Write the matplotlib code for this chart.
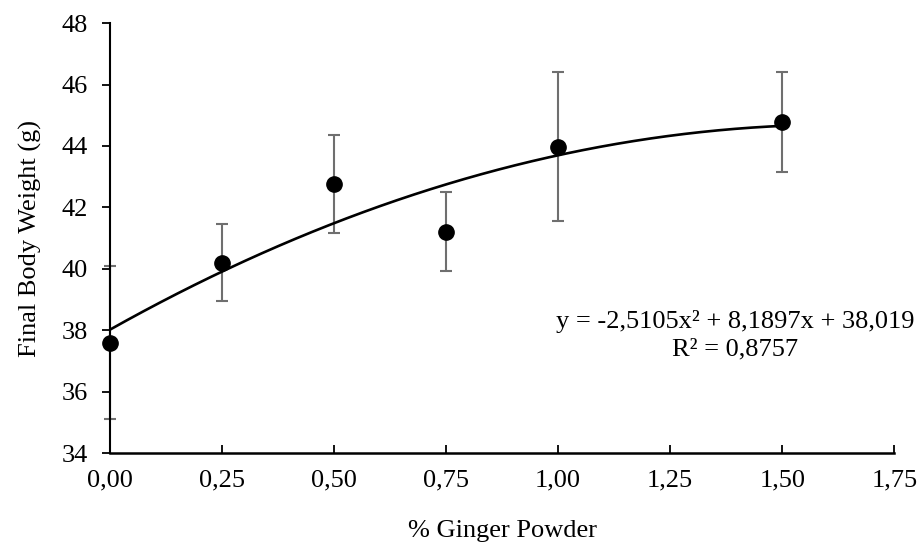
import numpy as np
import matplotlib.pyplot as plt

plt.rcParams['font.family'] = ['Liberation Serif', 'DejaVu Serif']

# dati
ginger = [0.0, 0.25, 0.5, 0.75, 1.0, 1.5]
weight = [37.6, 40.2, 42.76, 41.21, 43.98, 44.77]
err = [2.5, 1.25, 1.6, 1.28, 2.43, 1.63]

# coefficienti della linea di tendenza (dal testo del grafico)
coef = [-2.5105, 8.1897, 38.019]
r2 = 0.8757

xticks = [0, 0.25, 0.5, 0.75, 1.0, 1.25, 1.5, 1.75]
yticks = [34, 36, 38, 40, 42, 44, 46, 48]

fs = 19

fig = plt.figure(figsize=(9.23, 5.5), dpi=100)
ax = fig.add_axes([0.119, 0.176, 0.850, 0.782])

xf = np.linspace(min(ginger), max(ginger), 200)
ax.plot(xf, np.polyval(coef, xf), color='black', lw=1.9, zorder=2)

ax.errorbar(ginger, weight, yerr=err, fmt='none', ecolor='#6f6f6f',
            elinewidth=1.5, capsize=4, capthick=1.5, zorder=1, clip_on=False)
ax.plot(ginger, weight, 'o', color='black', ms=11, zorder=3, clip_on=False)

ax.set_xlim(0, 1.75)
ax.set_ylim(34, 48)
ax.set_xticks(xticks)
ax.set_yticks(yticks)
ax.set_xticklabels([('%.2f' % v).replace('.', ',') for v in xticks])

ax.spines['top'].set_visible(False)
ax.spines['right'].set_visible(False)
ax.spines['left'].set_linewidth(1.5)
ax.spines['bottom'].set_linewidth(1.8)
ax.tick_params(axis='x', direction='in', length=6, width=1.3, labelsize=fs, pad=12)
ax.tick_params(axis='y', direction='out', length=6, width=1.3, labelsize=fs, pad=10)

ax.set_xlabel('% Ginger Powder', fontsize=fs, labelpad=20)
ax.set_ylabel('Final Body Weight (g)', fontsize=fs, labelpad=14)

eq = 'y = ' + ('%.4fx² + %.4fx + %.3f' % (coef[0], coef[1], coef[2])).replace('.', ',')
txt = eq + '\n' + ('R² = %.4f' % r2).replace('.', ',')
ax.text(1.395, 38.65, txt, fontsize=fs, ha='center', va='top', multialignment='center',
        linespacing=1.3)

plt.savefig('out.png', dpi=100)
